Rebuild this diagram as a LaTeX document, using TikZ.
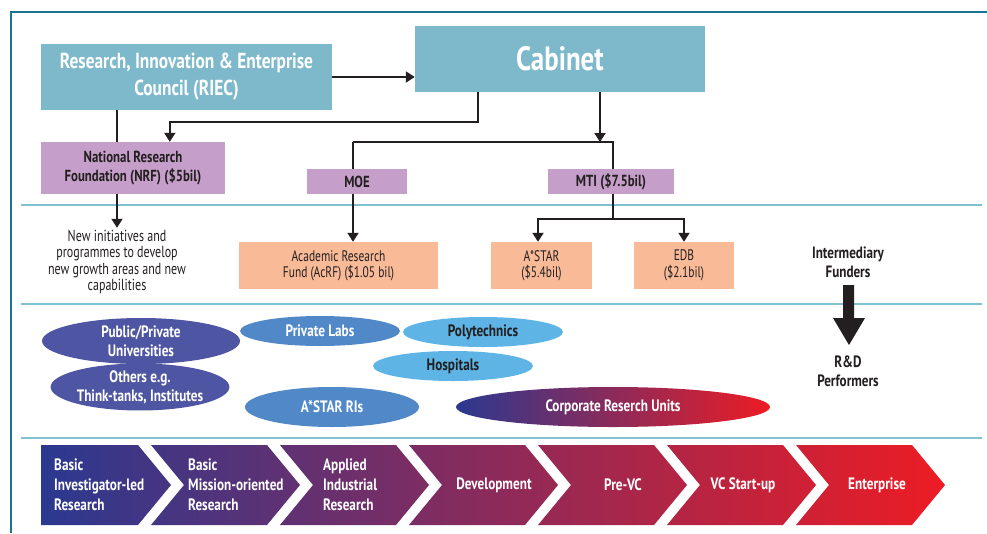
\documentclass[tikz,border=0pt]{standalone}
\usepackage{fontspec}
\setmainfont{PT Sans}[UprightFeatures={FakeStretch=0.75}, BoldFeatures={FakeStretch=0.8}]
\usetikzlibrary{arrows.meta,shapes.geometric,calc,backgrounds}
\definecolor{ink}{HTML}{231F20}
\definecolor{tealbox}{HTML}{7DB9CB}
\definecolor{framec}{HTML}{17758F}
\definecolor{sepc}{HTML}{80C2D1}
\definecolor{lilac}{HTML}{C59FC9}
\definecolor{salmon}{HTML}{F9BA98}
\definecolor{navyp}{HTML}{4E55A2}
\definecolor{midb}{HTML}{5088C8}
\definecolor{lightb}{HTML}{5DB4E5}
\definecolor{gradL}{HTML}{2B3990}
\definecolor{gradR}{HTML}{ED1C24}
\tikzset{
  ln/.style={line width=1.8pt, draw=ink},
  arr/.style={ln, -{Triangle[width=11pt,length=9pt]}},
  dsh/.style={line width=1.3pt, draw=ink, dash pattern=on 8pt off 6pt},
  sepline/.style={line width=1.6pt, draw=sepc},
  frameline/.style={line width=2.5pt, draw=framec},
  tealnode/.style={fill=tealbox, text=white, font=\bfseries\fontsize{21.7}{27}\selectfont, align=center, inner sep=0pt},
  lilnode/.style={fill=lilac, text=ink, font=\bfseries\fontsize{16}{18.5}\selectfont, align=center, inner sep=0pt},
  salnode/.style={fill=salmon, text=ink, font=\fontsize{15.3}{16.5}\selectfont, align=center, inner sep=0pt},
  ell/.style={ellipse, inner sep=0pt, font=\bfseries\fontsize{16.5}{19}\selectfont, align=center},
  chevtxt/.style={text=white, font=\bfseries\fontsize{16.5}{20}\selectfont, inner sep=0pt},
  lbl/.style={text=ink, font=\bfseries\fontsize{16.4}{19}\selectfont, align=center, inner sep=0pt}
}
\begin{document}
\begin{tikzpicture}[x=1pt,y=-1pt]
\useasboundingbox (0,0) rectangle (987,533);

% boxes
\node[tealnode, minimum width=291pt, minimum height=66pt] (riec) at (186.5,77) {Research, Innovation \& Enterprise\\Council (RIEC)};
\node[tealnode, minimum width=290pt, minimum height=66pt, font=\bfseries\fontsize{33.7}{38}\selectfont] (cab) at (560,59) {Cabinet};
\node[lilnode, minimum width=184pt, minimum height=52pt] (nrf) at (133,168) {National Research\\Foundation (NRF) (\$5bil)};
\node[lilnode, minimum width=100pt, minimum height=25pt] (moe) at (357,181.5) {MOE};
\node[lilnode, minimum width=126pt, minimum height=25pt] (mti) at (611,181.5) {MTI (\$7.5bil)};
\node[salnode, minimum width=199pt, minimum height=47pt] (acrf) at (338.5,265.5) {Academic Research\\Fund (AcRF) (\$1.05 bil)};
\node[salnode, minimum width=101pt, minimum height=47pt] (astar) at (541.5,265.5) {A*STAR\\(\$5.4bil)};
\node[salnode, minimum width=100pt, minimum height=47pt] (edb) at (684,265.5) {EDB\\(\$2.1bil)};
\node[text=ink, font=\fontsize{16}{16.5}\selectfont, align=center, inner sep=2pt] (newinit) at (117,262) {New initiatives and\\programmes to develop\\new growth areas and new\\capabilities};

\coordinate (j0) at (600,142);
\coordinate (j1) at (353,142);
\coordinate (j2) at (613,142);
\coordinate (j3) at (613,219);
\coordinate (c1) at ($(cab.south west)+(63,0)$);
\coordinate (n1) at ($(nrf.north west)+(129,0)$);

\begin{pgfonlayer}{background}
\fill[white] (0,0) rectangle (987,533);
% frame and separators
\draw[frameline] (11,533) -- (11,12) -- (987,12);
\draw[sepline] (21,205) -- (982,205);
\draw[sepline] (21,304) -- (982,304);
\draw[sepline] (21,438) -- (982,438);
% connectors
\draw[arr] (riec.east) -- (riec.east -| cab.west);
\draw[arr] (riec.south -| newinit.north) -- (newinit.north);
\draw[arr] (c1) -- ++(0,30) -| (n1);
\draw[arr] (cab.south -| j0) -- (j0);
\draw[ln] (j1) -- (j2) -- (j3);
\draw[arr] (j1) -- (j1 |- acrf.north);
\draw[arr] (j3) -| ($(astar.north)+(-3.5,0)$);
\draw[arr] (j3) -| (edb.north);
\draw[dsh] ($(moe.west)+(0,5)$) -- ($(moe.west)+(0,5)$ -| nrf.east);
\draw[dsh] ($(mti.west)+(0,5)$) -- ($(mti.west)+(0,5)$ -| moe.east);
\end{pgfonlayer}

% intermediary arrow
\node[lbl] (interm) at (848,262) {Intermediary\\Funders};
\node[lbl] (rdp) at (848,371) {R\&D\\Performers};
\fill[ink] (843,285) -- (854,285) -- (854,318) -- (865,318) -- (849,345) -- (833,318) -- (843,318) -- cycle;

% ellipses
\node[ell, fill=navyp, text=white, minimum width=198pt, minimum height=46pt] (pub) at (141,341) {Public/Private\\Universities};
\node[ell, fill=navyp, text=white, minimum width=174pt, minimum height=40pt] (oth) at (140,387) {Others e.g.\\Think-tanks, Institutes};
\node[ell, fill=midb, text=white, minimum width=160pt, minimum height=30pt] (plab) at (320,331) {Private Labs};
\node[ell, fill=lightb, text=ink, minimum width=160pt, minimum height=30pt] (poly) at (483,332) {Polytechnics};
\node[ell, fill=lightb, text=ink, minimum width=160pt, minimum height=30pt] (hosp) at (453,366) {Hospitals};
\node[ell, fill=midb, text=white, minimum width=174pt, minimum height=40pt] (ris) at (332,407) {A*STAR RIs};
\node[ell, left color=gradL, right color=gradR, text=white, minimum width=314pt, minimum height=40pt] (corp) at (613,407) {Corporate Reserch Units};

% chevrons
\begin{scope}
\clip (41,445)--(138,445)--(171,485)--(138,525)--(41,525)--cycle
 (151,445)--(267,445)--(300,485)--(267,525)--(151,525)--(184,485)--cycle
 (280,445)--(396,445)--(429,485)--(396,525)--(280,525)--(313,485)--cycle
 (409,445)--(525,445)--(558,485)--(525,525)--(409,525)--(442,485)--cycle
 (538,445)--(654,445)--(687,485)--(654,525)--(538,525)--(571,485)--cycle
 (667,445)--(783,445)--(816,485)--(783,525)--(667,525)--(700,485)--cycle
 (796,445)--(912,445)--(945,485)--(912,525)--(796,525)--(829,485)--cycle;
\shade[left color=gradL, right color=gradR] (41,445) rectangle (946,525);
\end{scope}
\node[chevtxt, anchor=west, align=left] (ch1) at (54,485) {Basic\\Investigator-led\\Research};
\node[chevtxt, anchor=west, align=left] (ch2) at (188,485) {Basic\\Mission-oriented\\Research};
\node[chevtxt, anchor=west, align=left] (ch3) at (323,485) {Applied\\Industrial\\Research};
\node[chevtxt] (ch4) at (494,485) {Development};
\node[chevtxt] (ch5) at (623,485) {Pre-VC};
\node[chevtxt] (ch6) at (743,485) {VC Start-up};
\node[chevtxt] (ch7) at (877,485) {Enterprise};
\end{tikzpicture}
\end{document}
